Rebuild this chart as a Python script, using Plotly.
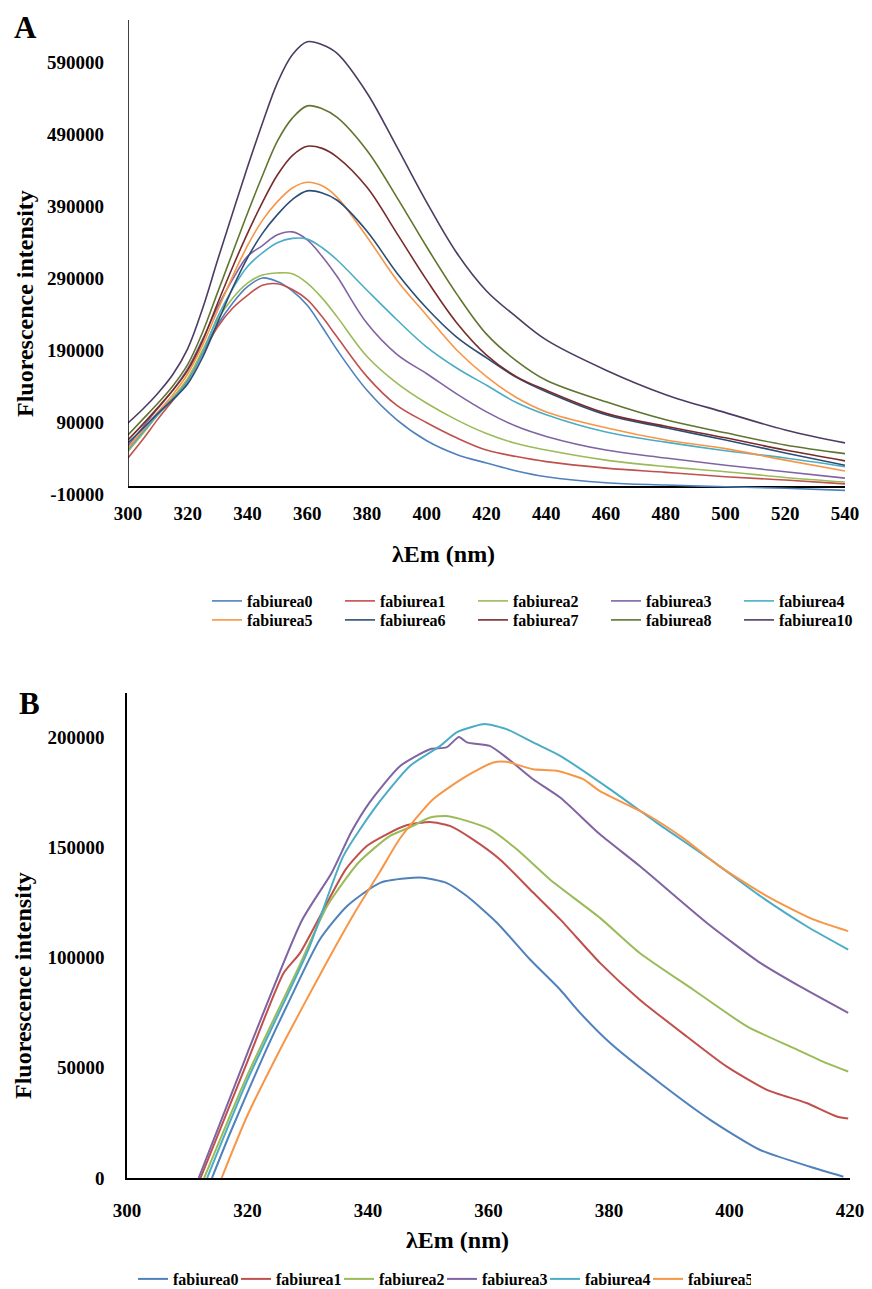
import plotly.graph_objects as go

W, H = 872, 1289

# ---------------- Panel A: emission spectra ----------------
wl_a = [300, 305, 310, 315, 320, 325, 330, 335, 340, 345, 350, 355, 360, 365, 370,
        380, 390, 400, 410, 420, 430, 440, 460, 480, 500, 520, 540]
fabiurea0_a = [51000, 76000, 101000, 124000, 148000, 187000, 225000, 255000, 278000, 290000, 285000, 272000, 252000, 222000, 190000,
               134000, 93000, 64000, 45000, 33000, 22000, 14000, 5700, 2500, 0, -2100, -5000]
fabiurea1_a = [40000, 66000, 94000, 120000, 146000, 185000, 222000, 248000, 266000, 280000, 282000, 274000, 260000, 236000, 208000,
               153000, 113000, 89000, 68000, 51000, 42000, 35000, 26000, 20000, 14000, 9400, 4000]
fabiurea2_a = [49000, 74000, 100000, 124000, 151000, 190000, 232000, 262000, 283000, 294000, 297000, 296000, 283000, 262000, 236000,
               181000, 144000, 116000, 93000, 74000, 60000, 51000, 37000, 28000, 21000, 13000, 6600]
fabiurea3_a = [57000, 83000, 109000, 134000, 164000, 205000, 250000, 288000, 320000, 335000, 350000, 354000, 343000, 320000, 292000,
               227000, 184000, 157000, 129000, 104000, 84000, 70000, 51000, 40000, 30000, 21000, 12000]
fabiurea4_a = [52000, 76000, 100000, 122000, 146000, 186000, 236000, 275000, 306000, 325000, 339000, 345000, 344000, 332000, 315000,
               273000, 232000, 194000, 165000, 141000, 117000, 100000, 76000, 62000, 50000, 40000, 28000]
fabiurea5_a = [54000, 79000, 104000, 128000, 157000, 197000, 245000, 292000, 335000, 370000, 396000, 415000, 423000, 418000, 402000,
               347000, 287000, 238000, 190000, 153000, 124000, 104000, 82000, 65000, 53000, 37000, 22000]
fabiurea6_a = [61000, 81000, 102000, 121000, 143000, 180000, 228000, 276000, 318000, 352000, 378000, 399000, 411000, 408000, 398000,
               355000, 297000, 248000, 208000, 179000, 152000, 132000, 100000, 82000, 65000, 47000, 30000]
fabiurea7_a = [65000, 87000, 110000, 134000, 162000, 203000, 255000, 305000, 352000, 395000, 433000, 460000, 473000, 470000, 458000,
               416000, 352000, 287000, 228000, 183000, 153000, 134000, 102000, 84000, 68000, 51000, 36000]
fabiurea8_a = [72000, 94000, 116000, 140000, 170000, 215000, 270000, 325000, 380000, 432000, 480000, 512000, 529000, 525000, 513000,
               467000, 402000, 333000, 268000, 212000, 175000, 148000, 118000, 93000, 75000, 58000, 46000]
fabiurea10_a = [88600, 108000, 130000, 156000, 192000, 248000, 315000, 380000, 444000, 505000, 561000, 600000, 618000, 614000, 602000,
                547000, 472000, 395000, 325000, 272000, 236000, 204000, 162000, 128000, 103000, 79000, 61000]

names_a = ["fabiurea0", "fabiurea1", "fabiurea2", "fabiurea3", "fabiurea4",
           "fabiurea5", "fabiurea6", "fabiurea7", "fabiurea8", "fabiurea10"]
series_a = [fabiurea0_a, fabiurea1_a, fabiurea2_a, fabiurea3_a, fabiurea4_a,
            fabiurea5_a, fabiurea6_a, fabiurea7_a, fabiurea8_a, fabiurea10_a]
colors_a = ["#4F81BD", "#C0504D", "#9BBB59", "#8064A2", "#4BACC6",
            "#F79646", "#2C4D75", "#772C2A", "#5F7530", "#4D3B62"]

x_ticks_a = [300, 320, 340, 360, 380, 400, 420, 440, 460, 480, 500, 520, 540]
y_ticks_a = [-10000, 90000, 190000, 290000, 390000, 490000, 590000]

# ---------------- Panel B: emission spectra ----------------
fabiurea0_b_nm = [314.1, 317.1, 322.6, 326.5, 332.0, 336.5, 342.0, 347.5, 349.2, 353.0, 356.4, 361.4, 366.9, 371.9, 375.2, 380.2, 388.5, 396.8, 405.1, 413.4, 418.9]
fabiurea0_b = [0, 20300, 55100, 77900, 108200, 123300, 133900, 136200, 136200, 133900, 127900, 115800, 99100, 85400, 74900, 61200, 43000, 26400, 12700, 5100, 600]

fabiurea1_b_nm = [312.2, 320.0, 326.0, 328.7, 336.3, 339.8, 343.1, 346.4, 350.3, 353.6, 357.4, 361.9, 367.4, 371.9, 378.5, 385.1, 392.9, 399.5, 406.2, 412.8, 417.8, 419.7]
fabiurea1_b = [0, 52900, 93000, 102000, 140000, 150600, 155900, 160000, 161500, 159700, 153600, 144500, 129500, 117300, 97600, 80900, 64200, 50600, 40000, 34000, 27900, 27000]

fabiurea2_b_nm = [312.8, 320.0, 328.7, 333.2, 338.4, 343.6, 346.9, 350.3, 353.0, 356.4, 360.2, 364.7, 370.2, 378.5, 385.1, 394.0, 402.9, 410.6, 416.1, 419.7]
fabiurea2_b = [0, 46800, 96800, 123300, 143000, 155100, 159000, 163500, 164200, 162000, 158200, 149100, 135400, 118000, 102100, 85400, 68800, 59000, 52100, 48300]

fabiurea3_b_nm = [311.9, 320.0, 329.0, 334.0, 337.2, 340.3, 345.3, 350.3, 353.0, 355.1, 356.4, 360.2, 363.0, 367.4, 371.9, 378.5, 385.1, 396.2, 405.1, 411.7, 419.7]
fabiurea3_b = [0, 56800, 116700, 138600, 156800, 170500, 186800, 194500, 195300, 200000, 197600, 196000, 190700, 180900, 172600, 155900, 141500, 115800, 97600, 86900, 74900]

fabiurea4_b_nm = [313.3, 320.0, 330.1, 335.9, 341.4, 347.0, 352.0, 354.7, 357.5, 359.4, 363.0, 367.4, 371.9, 380.2, 387.9, 396.8, 405.1, 412.8, 419.7]
fabiurea4_b = [0, 44500, 103600, 146000, 168800, 187000, 196000, 202100, 204800, 205900, 203600, 197600, 191500, 176300, 161200, 144500, 127900, 114200, 103600]

fabiurea5_b_nm = [315.7, 319.9, 325.4, 329.8, 333.7, 338.1, 342.0, 345.3, 350.8, 356.4, 360.8, 363.0, 367.4, 371.3, 375.7, 378.5, 386.2, 392.2, 398.3, 406.2, 413.9, 419.7]
fabiurea5_b = [0, 27900, 58200, 80900, 100600, 121800, 139000, 154000, 171800, 182400, 188500, 188800, 185400, 184700, 180900, 175500, 165000, 154400, 141500, 127900, 117300, 112000]

names_b = ["fabiurea0", "fabiurea1", "fabiurea2", "fabiurea3", "fabiurea4", "fabiurea5"]
nm_b = [fabiurea0_b_nm, fabiurea1_b_nm, fabiurea2_b_nm, fabiurea3_b_nm, fabiurea4_b_nm, fabiurea5_b_nm]
series_b = [fabiurea0_b, fabiurea1_b, fabiurea2_b, fabiurea3_b, fabiurea4_b, fabiurea5_b]
colors_b = colors_a[:6]

x_ticks_b = [300, 320, 340, 360, 380, 400, 420]
y_ticks_b = [0, 50000, 100000, 150000, 200000]

FONT = "Liberation Serif, DejaVu Serif, serif"


def fx(p):
    return p / W


def fy(p):
    return 1 - p / H


fig = go.Figure()

for i, (name, vals, color) in enumerate(zip(names_a, series_a, colors_a)):
    fig.add_trace(go.Scatter(
        x=wl_a, y=vals, name=name, mode="lines",
        line=dict(color=color, width=1.6, shape="spline", smoothing=1.0),
        xaxis="x", yaxis="y",
        legend="legend" if i < 5 else "legend2",
        hoverinfo="skip",
    ))

for name, xs, vals, color in zip(names_b, nm_b, series_b, colors_b):
    fig.add_trace(go.Scatter(
        x=xs, y=vals, name=name, mode="lines",
        line=dict(color=color, width=2, shape="spline", smoothing=0.6),
        xaxis="x2", yaxis="y2", legend="legend3",
        hoverinfo="skip",
    ))

tick_font = dict(family=FONT, size=19, color="black", weight="bold")
legend_font = dict(family=FONT, size=16, color="black", weight="bold")
title_font = dict(family=FONT, size=24, color="black", weight="bold")
panel_font = dict(family=FONT, size=31, color="black", weight="bold")


def label(text, x, y, font, angle=0):
    return dict(text=text, x=fx(x), y=fy(y), xref="paper", yref="paper",
                xanchor="center", yanchor="middle", textangle=angle,
                showarrow=False, font=font)


fig.update_layout(
    width=W, height=H,
    margin=dict(l=0, r=0, t=0, b=0, autoexpand=False),
    paper_bgcolor="white", plot_bgcolor="white",
    font=dict(family=FONT, color="black"),
    xaxis=dict(
        domain=[fx(128), fx(845)], range=[300, 540], anchor="y",
        tickmode="array", tickvals=x_ticks_a, ticktext=[str(v) for v in x_ticks_a],
        ticks="", showline=False, showgrid=False, zeroline=False, automargin=False,
        tickfont=tick_font, ticklabelstandoff=6,
    ),
    yaxis=dict(
        domain=[fy(494), fy(20)], range=[-10000, 648300], anchor="x",
        tickmode="array", tickvals=y_ticks_a, ticktext=[str(v) for v in y_ticks_a],
        ticks="", showline=False, showgrid=False, automargin=False,
        zeroline=True, zerolinecolor="black", zerolinewidth=1.5,
        tickfont=tick_font, ticklabelstandoff=23,
    ),
    xaxis2=dict(
        domain=[fx(127), fx(850)], range=[300, 420], anchor="y2",
        tickmode="array", tickvals=x_ticks_b, ticktext=[str(v) for v in x_ticks_b],
        ticks="", showline=True, linecolor="black", linewidth=1.5,
        showgrid=False, zeroline=False, automargin=False,
        tickfont=tick_font, ticklabelstandoff=14,
    ),
    yaxis2=dict(
        domain=[fy(1178), fy(693)], range=[0, 220000], anchor="x2",
        tickmode="array", tickvals=y_ticks_b, ticktext=[str(v) for v in y_ticks_b],
        ticks="", showline=True, linecolor="black", linewidth=1.5,
        showgrid=False, zeroline=False, automargin=False,
        tickfont=tick_font, ticklabelstandoff=17,
    ),
    legend=dict(
        orientation="h", x=fx(207), y=fy(601), xanchor="left", yanchor="middle",
        entrywidth=88, entrywidthmode="pixels", font=legend_font,
        bgcolor="rgba(0,0,0,0)", traceorder="normal",
    ),
    legend2=dict(
        orientation="h", x=fx(207), y=fy(620), xanchor="left", yanchor="middle",
        entrywidth=88, entrywidthmode="pixels", font=legend_font,
        bgcolor="rgba(0,0,0,0)", traceorder="normal",
    ),
    legend3=dict(
        orientation="h", x=fx(133), y=fy(1279), xanchor="left", yanchor="middle",
        entrywidth=58, entrywidthmode="pixels", font=legend_font,
        bgcolor="rgba(0,0,0,0)", traceorder="normal",
    ),
    shapes=[
        # vertical axis of panel A, rising from the zero line
        dict(type="line", xref="x", yref="y", x0=300, x1=300, y0=0, y1=648300,
             line=dict(color="black", width=1.5)),
    ],
    annotations=[
        label("A", 25, 28, panel_font),
        label("B", 29, 703, panel_font),
        label("Fluorescence intensity", 25, 304, title_font, -90),
        label("λEm (nm)", 444, 554, title_font),
        label("Fluorescence intensity", 23, 986, title_font, -90),
        label("λEm (nm)", 457, 1240, title_font),
    ],
)

fig.write_html("out.html")
